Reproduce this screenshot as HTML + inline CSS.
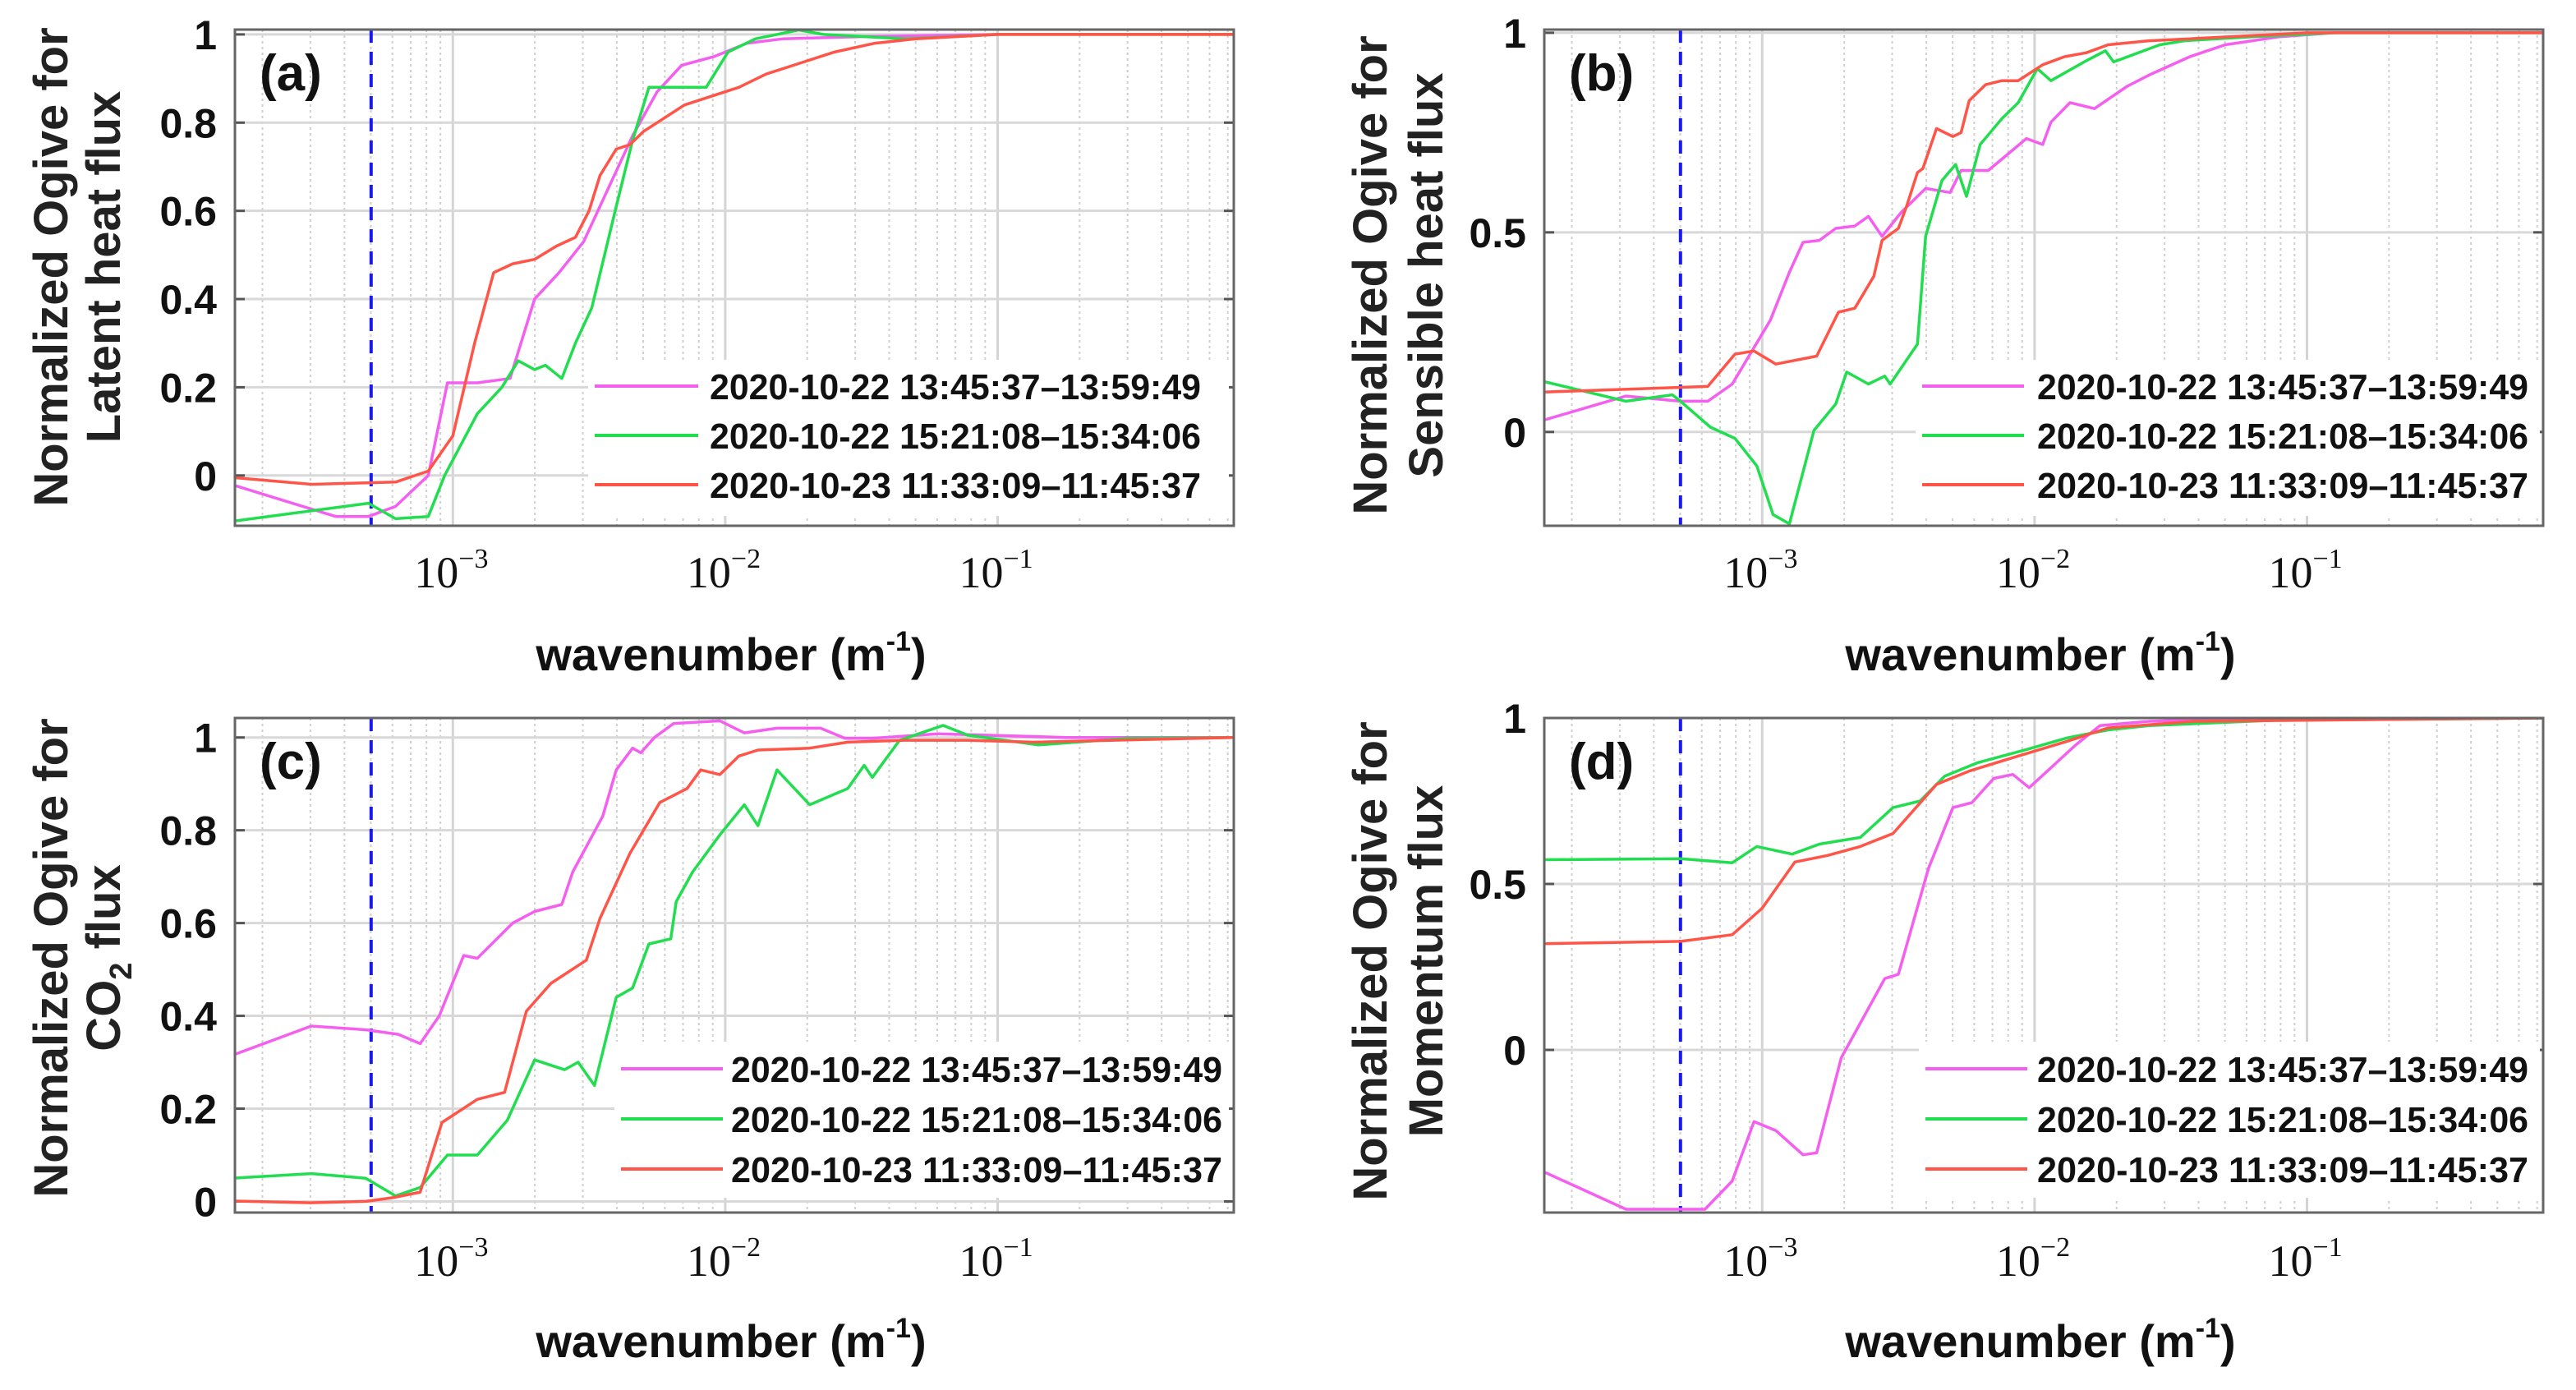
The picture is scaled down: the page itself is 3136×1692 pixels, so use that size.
<!DOCTYPE html>
<html><head><meta charset="utf-8">
<style>
html,body{margin:0;padding:0;background:#fff;}
svg{display:block;}
text{font-family:"Liberation Sans",sans-serif;}
</style></head>
<body>
<svg id="chart" width="3136" height="1692" viewBox="0 0 3136 1692" xmlns="http://www.w3.org/2000/svg">
<rect x="0" y="0" width="3136" height="1692" fill="#fff"/>
</svg>
<script>
// ---------- DATA ----------
const seriesNames = ['2020-10-22 13:45:37\u201313:59:49','2020-10-22 15:21:08\u201315:34:06','2020-10-23 11:33:09\u201311:45:37'];
const xTickExps = [-3,-2,-1];
const cutoffLogK = -3.30;

// panel (a) latent heat
const a_magenta_logk = [-3.80,-3.43,-3.31,-3.21,-3.09,-3.02,-2.91,-2.79,-2.70,-2.61,-2.52,-2.43,-2.34,-2.25,-2.16,-2.04,-1.92,-1.79,-1.5,-1.0,-0.13];
const a_magenta_val  = [-0.023,-0.093,-0.093,-0.07,0.0,0.21,0.21,0.22,0.40,0.46,0.53,0.65,0.77,0.87,0.93,0.95,0.98,0.99,0.995,1.0,1.0];
const a_green_logk = [-3.80,-3.31,-3.21,-3.09,-3.03,-2.91,-2.82,-2.76,-2.70,-2.66,-2.60,-2.55,-2.49,-2.40,-2.34,-2.28,-2.16,-2.07,-1.99,-1.89,-1.73,-1.64,-1.34,-1.0,-0.13];
const a_green_val  = [-0.103,-0.063,-0.098,-0.093,0.0,0.14,0.20,0.26,0.24,0.25,0.22,0.30,0.38,0.61,0.76,0.88,0.88,0.88,0.96,0.99,1.01,1.0,0.99,1.0,1.0];
const a_red_logk = [-3.80,-3.52,-3.21,-3.09,-3.0,-2.92,-2.85,-2.78,-2.70,-2.62,-2.55,-2.50,-2.46,-2.40,-2.35,-2.30,-2.25,-2.15,-2.05,-1.95,-1.85,-1.75,-1.6,-1.45,-1.3,-1.0,-0.13];
const a_red_val  = [-0.005,-0.02,-0.015,0.01,0.09,0.30,0.46,0.48,0.49,0.52,0.54,0.60,0.68,0.74,0.75,0.78,0.80,0.84,0.86,0.88,0.91,0.93,0.96,0.98,0.99,1.0,1.0];

// panel (b) sensible heat
const b_magenta_logk = [-3.80,-3.50,-3.30,-3.20,-3.11,-2.97,-2.90,-2.85,-2.79,-2.73,-2.66,-2.61,-2.56,-2.49,-2.40,-2.31,-2.27,-2.17,-2.10,-2.03,-1.97,-1.94,-1.87,-1.78,-1.66,-1.58,-1.43,-1.3,-1.1,-0.9,-0.13];
const b_magenta_val  = [0.03,0.09,0.077,0.077,0.12,0.28,0.40,0.475,0.48,0.51,0.516,0.54,0.49,0.55,0.61,0.60,0.655,0.655,0.695,0.735,0.72,0.776,0.825,0.81,0.866,0.894,0.94,0.97,0.99,1.0,1.0];
const b_green_logk = [-3.80,-3.50,-3.33,-3.30,-3.19,-3.10,-3.02,-2.96,-2.90,-2.81,-2.73,-2.69,-2.61,-2.55,-2.53,-2.43,-2.40,-2.34,-2.29,-2.25,-2.20,-2.12,-2.06,-1.99,-1.94,-1.81,-1.74,-1.71,-1.54,-1.45,-1.2,-0.9,-0.13];
const b_green_val  = [0.126,0.077,0.093,0.077,0.012,-0.016,-0.085,-0.207,-0.23,0.004,0.07,0.15,0.12,0.14,0.12,0.22,0.49,0.63,0.67,0.59,0.72,0.785,0.825,0.91,0.88,0.93,0.955,0.927,0.97,0.98,0.99,1.0,1.0];
const b_red_logk = [-3.80,-3.20,-3.10,-3.03,-2.95,-2.80,-2.72,-2.66,-2.59,-2.56,-2.50,-2.47,-2.43,-2.41,-2.36,-2.30,-2.27,-2.24,-2.18,-2.12,-2.06,-1.97,-1.89,-1.81,-1.73,-1.58,-1.43,-1.0,-0.13];
const b_red_val  = [0.10,0.114,0.195,0.203,0.17,0.19,0.30,0.31,0.39,0.48,0.51,0.565,0.65,0.66,0.76,0.74,0.75,0.83,0.87,0.88,0.88,0.92,0.94,0.95,0.97,0.98,0.985,1.0,1.0];

// panel (c) CO2
const c_magenta_logk = [-3.81,-3.52,-3.32,-3.20,-3.12,-3.05,-2.96,-2.91,-2.78,-2.70,-2.60,-2.56,-2.45,-2.40,-2.34,-2.31,-2.26,-2.19,-2.02,-1.93,-1.81,-1.65,-1.56,-1.46,-1.22,-0.75,-0.13];
const c_magenta_val  = [0.315,0.378,0.37,0.36,0.34,0.40,0.53,0.524,0.60,0.625,0.64,0.71,0.83,0.93,0.977,0.967,1.0,1.03,1.036,1.01,1.02,1.02,0.998,0.998,1.008,1.0,1.0];
const c_green_logk = [-3.81,-3.52,-3.32,-3.21,-3.12,-3.02,-2.91,-2.80,-2.70,-2.59,-2.54,-2.48,-2.40,-2.34,-2.28,-2.20,-2.18,-2.12,-2.02,-1.93,-1.88,-1.81,-1.69,-1.55,-1.49,-1.46,-1.36,-1.20,-1.11,-0.85,-0.52,-0.13];
const c_green_val  = [0.05,0.06,0.05,0.012,0.03,0.10,0.10,0.175,0.305,0.284,0.30,0.25,0.44,0.46,0.555,0.566,0.646,0.71,0.79,0.855,0.81,0.93,0.855,0.89,0.94,0.914,0.994,1.026,1.005,0.984,0.998,1.0];
const c_red_logk = [-3.81,-3.52,-3.32,-3.22,-3.12,-3.04,-2.91,-2.81,-2.73,-2.64,-2.51,-2.46,-2.35,-2.24,-2.14,-2.09,-2.02,-1.95,-1.88,-1.69,-1.55,-1.34,-1.11,-0.87,-0.13];
const c_red_val  = [0.001,-0.003,0.0,0.008,0.02,0.17,0.22,0.235,0.41,0.47,0.52,0.61,0.75,0.86,0.89,0.93,0.92,0.96,0.973,0.977,0.99,0.994,0.994,0.99,1.0];

// panel (d) momentum
const d_magenta_logk = [-3.80,-3.50,-3.21,-3.11,-3.03,-2.95,-2.85,-2.80,-2.71,-2.55,-2.50,-2.39,-2.30,-2.23,-2.15,-2.08,-2.02,-1.94,-1.85,-1.76,-1.58,-1.2,-0.13];
const d_magenta_val  = [-0.368,-0.48,-0.48,-0.395,-0.216,-0.243,-0.316,-0.31,-0.024,0.215,0.228,0.546,0.73,0.745,0.818,0.83,0.79,0.85,0.918,0.977,0.99,1.0,1.0];
const d_green_logk = [-3.80,-3.30,-3.11,-3.02,-2.89,-2.79,-2.64,-2.52,-2.42,-2.33,-2.21,-2.03,-1.88,-1.73,-1.58,-1.12,-0.13];
const d_green_val  = [0.573,0.576,0.564,0.613,0.59,0.62,0.64,0.73,0.75,0.825,0.865,0.905,0.94,0.964,0.977,0.993,1.0];
const d_red_logk = [-3.80,-3.30,-3.11,-3.0,-2.88,-2.76,-2.64,-2.52,-2.36,-2.24,-2.09,-1.88,-1.73,-1.42,-0.13];
const d_red_val  = [0.32,0.327,0.347,0.427,0.566,0.586,0.613,0.652,0.80,0.84,0.878,0.93,0.97,0.99,1.0];

const a_yticks = [0,0.2,0.4,0.6,0.8,1];
const a_ytickLabels = ['0','0.2','0.4','0.6','0.8','1'];
const b_yticks = [0,0.5,1];
const b_ytickLabels = ['0','0.5','1'];
const c_yticks = [0,0.2,0.4,0.6,0.8,1];
const c_ytickLabels = ['0','0.2','0.4','0.6','0.8','1'];
const d_yticks = [0,0.5,1];
const d_ytickLabels = ['0','0.5','1'];

// ---------- LAYOUT ----------
const NS = 'http://www.w3.org/2000/svg';
const svg = document.getElementById('chart');
const COLORS = ['#f45ff0','#22dd4f','#ff5548'];
const XMIN = -3.80, XMAX = -0.133;

const panels = [
  {id:'a', left:286, top:36, w:1216, h:604, ymin:-0.114, ymax:1.011, yt:a_yticks, ytl:a_ytickLabels,
   series:[[a_magenta_logk,a_magenta_val],[a_green_logk,a_green_val],[a_red_logk,a_red_val]],
   ylab:['Normalized Ogive for','Latent heat flux'], ylx:[82,146], yly:325,
   leg:{rx:716, ry:438, rw:780, rh:190, lx0:724, lx1:850, tx:864, ys:[470,530,590]}, xtitleY:816, tickY:715},
  {id:'b', left:1880, top:36, w:1216, h:604, ymin:-0.235, ymax:1.008, yt:b_yticks, ytl:b_ytickLabels,
   series:[[b_magenta_logk,b_magenta_val],[b_green_logk,b_green_val],[b_red_logk,b_red_val]],
   ylab:['Normalized Ogive for','Sensible heat flux'], ylx:[1688,1756], yly:335,
   leg:{rx:2332, ry:438, rw:760, rh:190, lx0:2340, lx1:2464, tx:2480, ys:[470,530,590]}, xtitleY:816, tickY:715},
  {id:'c', left:286, top:874, w:1216, h:602, ymin:-0.024, ymax:1.042, yt:c_yticks, ytl:c_ytickLabels,
   series:[[c_magenta_logk,c_magenta_val],[c_green_logk,c_green_val],[c_red_logk,c_red_val]],
   ylab:['Normalized Ogive for','CO2 flux'], ylx:[82,146], yly:1166,
   leg:{rx:748, ry:1268, rw:748, rh:190, lx0:756, lx1:880, tx:890, ys:[1301,1362,1423]}, xtitleY:1652, tickY:1553},
  {id:'d', left:1880, top:874, w:1216, h:602, ymin:-0.49, ymax:1.0, yt:d_yticks, ytl:d_ytickLabels,
   series:[[d_magenta_logk,d_magenta_val],[d_green_logk,d_green_val],[d_red_logk,d_red_val]],
   ylab:['Normalized Ogive for','Momentum flux'], ylx:[1688,1756], yly:1170,
   leg:{rx:2336, ry:1268, rw:756, rh:190, lx0:2344, lx1:2468, tx:2480, ys:[1301,1362,1423]}, xtitleY:1652, tickY:1553}
];

function mk(tag, parent){ const e=document.createElementNS(NS,tag); parent.appendChild(e); return e; }

panels.forEach(function(p){
  const g = mk('g', svg);
  
  
  const xs = function(lk){ return p.left + (lk - XMIN)/(XMAX - XMIN)*p.w; };
  const ys = function(v){ return p.top + (p.ymax - v)/(p.ymax - p.ymin)*p.h; };

  // clip
  const cp = mk('clipPath', g); cp.setAttribute('id','clip-'+p.id);
  const cr = mk('rect', cp);
  cr.setAttribute('x',p.left); cr.setAttribute('y',p.top); cr.setAttribute('width',p.w); cr.setAttribute('height',p.h);

  // minor grid
  for (let d=-4; d<=-1; d++) {
    for (let m=2; m<=9; m++) {
      const lk = d + Math.log10(m);
      if (lk <= XMIN || lk >= XMAX) continue;
      const ln = mk('line', g);
      
      
      ln.setAttribute('x1',xs(lk)); ln.setAttribute('x2',xs(lk));
      ln.setAttribute('y1',p.top); ln.setAttribute('y2',p.top+p.h);
      ln.setAttribute('stroke','#cfcfcf'); ln.setAttribute('stroke-width','2'); ln.setAttribute('stroke-dasharray','3 4');
    }
  }
  // major x grid & tick labels
  xTickExps.forEach(function(e){
    const x = xs(e);
    const ln = mk('line', g);
    
    
    ln.setAttribute('x1',x); ln.setAttribute('x2',x); ln.setAttribute('y1',p.top); ln.setAttribute('y2',p.top+p.h);
    ln.setAttribute('stroke','#d4d4d4'); ln.setAttribute('stroke-width','3');
    const t = mk('text', g);
    
    
    t.setAttribute('x', x-47); t.setAttribute('y', p.tickY);
    t.setAttribute('style','font-family:"Liberation Serif",serif;font-size:54px;fill:#111');
    t.textContent = '10';
    const s = mk('tspan', t);
    s.setAttribute('dy','-24'); s.setAttribute('style','font-size:34px');
    s.textContent = '\u2212' + Math.abs(e);
  });
  // y grid, ticks, labels
  p.yt.forEach(function(v,i){
    const y = ys(v);
    const ln = mk('line', g);
    
    
    ln.setAttribute('x1',p.left); ln.setAttribute('x2',p.left+p.w); ln.setAttribute('y1',y); ln.setAttribute('y2',y);
    ln.setAttribute('stroke','#d8d8d8'); ln.setAttribute('stroke-width','3');
    [p.left, p.left+p.w-12].forEach(function(x0){
      const tk = mk('line', g);
      
      
      tk.setAttribute('x1',x0); tk.setAttribute('x2',x0+12); tk.setAttribute('y1',y); tk.setAttribute('y2',y);
      tk.setAttribute('stroke','#555'); tk.setAttribute('stroke-width','3');
    });
    const t = mk('text', g);
    
    
    t.setAttribute('x', p.left-22); t.setAttribute('y', y+18);
    t.setAttribute('text-anchor','end');
    t.setAttribute('style','font-size:50px;font-weight:bold;fill:#111');
    t.textContent = p.ytl[i];
  });

  // cutoff dashed line
  const cut = mk('line', g);
  
  
  cut.setAttribute('x1',xs(cutoffLogK)); cut.setAttribute('x2',xs(cutoffLogK));
  cut.setAttribute('y1',p.top); cut.setAttribute('y2',p.top+p.h);
  cut.setAttribute('stroke','#1a1aee'); cut.setAttribute('stroke-width','4'); cut.setAttribute('stroke-dasharray','16 11');

  // legend background
  const lr = mk('rect', g);
  
  
  lr.setAttribute('x',p.leg.rx); lr.setAttribute('y',p.leg.ry); lr.setAttribute('width',p.leg.rw); lr.setAttribute('height',p.leg.rh);
  lr.setAttribute('fill','#fff');

  // series
  const sg = mk('g', g);
  sg.setAttribute('clip-path','url(#clip-'+p.id+')');
  p.series.forEach(function(s,i){
    const path = mk('path', sg);
    
    
    let dstr = '';
    for (let k=0; k<s[0].length; k++) dstr += (k?'L':'M') + xs(s[0][k]).toFixed(1) + ',' + ys(s[1][k]).toFixed(1);
    path.setAttribute('d', dstr);
    path.setAttribute('fill','none'); path.setAttribute('stroke',COLORS[i]); path.setAttribute('stroke-width','3.5');
    path.setAttribute('stroke-linejoin','round');
  });

  // legend entries
  seriesNames.forEach(function(nm,i){
    const y = p.leg.ys[i];
    const ln = mk('line', g);
    
    
    ln.setAttribute('x1',p.leg.lx0); ln.setAttribute('x2',p.leg.lx1); ln.setAttribute('y1',y); ln.setAttribute('y2',y);
    ln.setAttribute('stroke',COLORS[i]); ln.setAttribute('stroke-width','4');
    const t = mk('text', g);
    
    
    t.setAttribute('x',p.leg.tx); t.setAttribute('y',y+16);
    t.setAttribute('textLength','598'); t.setAttribute('lengthAdjust','spacingAndGlyphs');
    t.setAttribute('style','font-size:44px;font-weight:bold;fill:#111');
    t.textContent = nm;
  });

  // axes box
  const bx = mk('rect', g);
  
  
  bx.setAttribute('x',p.left); bx.setAttribute('y',p.top); bx.setAttribute('width',p.w); bx.setAttribute('height',p.h);
  bx.setAttribute('fill','none'); bx.setAttribute('stroke','#666'); bx.setAttribute('stroke-width','3');

  // panel letter
  const pl = mk('text', g);
  
  
  pl.setAttribute('x', p.left+30); pl.setAttribute('y', p.top+74);
  pl.setAttribute('style','font-size:62px;font-weight:bold;fill:#111');
  pl.textContent = '(' + p.id + ')';

  // x title
  const xt = mk('text', g);
  
  
  xt.setAttribute('x', p.left + 604); xt.setAttribute('y', p.xtitleY);
  xt.setAttribute('text-anchor','middle');
  xt.setAttribute('style','font-size:56px;font-weight:bold;fill:#111');
  xt.textContent = 'wavenumber (m';
  const sup = mk('tspan', xt); sup.setAttribute('dy','-24'); sup.setAttribute('style','font-size:34px'); sup.textContent='-1';
  const cl = mk('tspan', xt); cl.setAttribute('dy','24'); cl.textContent=')';

  // y title
  p.ylab.forEach(function(line,j){
    const t = mk('text', g);
    
    
    t.setAttribute('text-anchor','middle');
    t.setAttribute('transform','translate('+p.ylx[j]+','+p.yly+') rotate(-90)');
    t.setAttribute('style','font-size:58px;font-weight:bold;fill:#222');
    if (line === 'CO2 flux') {
      t.textContent = 'CO';
      const sb = mk('tspan', t); sb.setAttribute('dy','14'); sb.setAttribute('style','font-size:38px'); sb.textContent='2';
      const rest = mk('tspan', t); rest.setAttribute('dy','-14'); rest.textContent=' flux';
    } else {
      t.textContent = line;
    }
  });
});
</script>
</body></html>
